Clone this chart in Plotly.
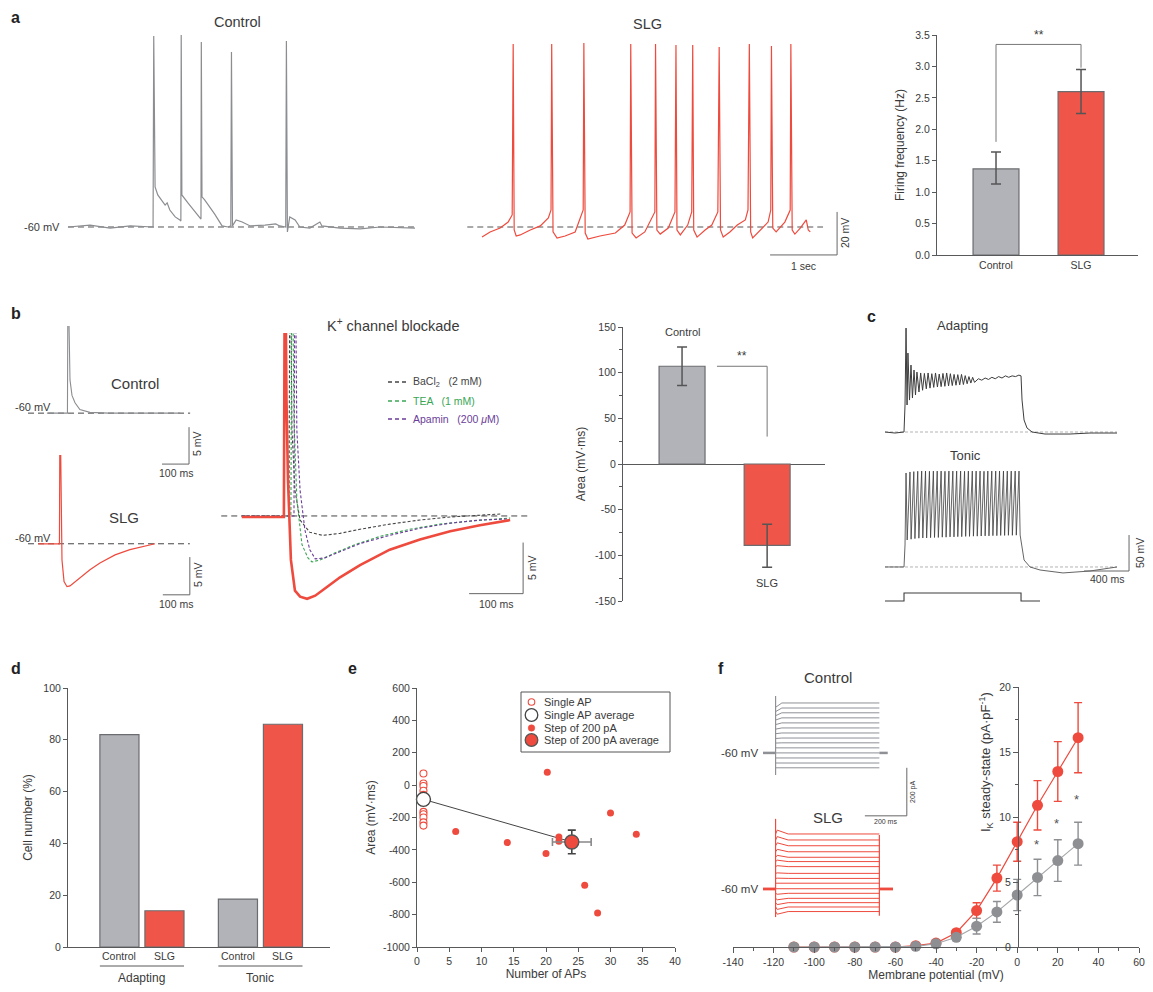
import plotly.graph_objects as go

# The page body adds an 8 px margin; the figure is sized so it fits the 1153x992 window.
OFF = 8
W, H = 1153 - OFF, 992 - OFF
FONT = "Liberation Sans, Arial, Helvetica, sans-serif"
TXT = "#3a3a3a"
AXC = "#58595b"
TRACE_GRAY = "#8b8d91"
RED = "#ee4a3d"
BAR_GRAY = "#b1b3b9"
BAR_RED = "#ef5649"
EDGE = "#6b6c6f"
TEA_C = "#3aa655"
APA_C = "#6b3d98"
BA_C = "#444444"

# ======================= DATA =======================
# --- a: spontaneous firing, time (s) / membrane potential (mV)
a_ctrl_t = [0, 0.33, 0.63, 0.93, 1.27, 1.28, 1.30, 1.34, 1.45, 1.48, 1.52, 1.60, 1.67,
            1.685, 1.69, 1.70, 1.79, 1.87, 1.97,
            1.985, 1.99, 2.00, 2.04, 2.12, 2.19, 2.30, 2.39,
            2.43, 2.44, 2.455, 2.51, 2.60, 2.72, 2.94, 3.10, 3.16,
            3.25, 3.26, 3.275, 3.31, 3.39, 3.46, 3.61, 3.76, 3.79, 4.06, 4.36, 4.66, 5.18]
a_ctrl_v = [-60, -59.1, -60.5, -59.5, -60, 28.8, -41.4, -45.1, -49.8, -48.8, -52.1, -55.3, -56.7,
            -57.2, 29.3, -45.1, -48.8, -52.1, -55.8,
            -56.3, 26.0, -46.0, -47.4, -50.7, -54.0, -59.5, -60.0,
            -59.5, 21.4, -59.5, -56.7, -57.7, -59.5, -59.1, -58.6, -59.5,
            -60, 26.5, -62.3, -55.3, -56.7, -60, -60.5, -57.7, -59.5, -60.5, -60.9, -60, -60.5]
a_slg_t = [0, 0.12, 0.27, 0.39, 0.45, 0.465, 0.48, 0.51, 0.57, 0.72, 0.87, 0.99, 1.03, 1.04, 1.06,
           1.12, 1.24, 1.39, 1.51, 1.52, 1.54, 1.58, 1.76, 1.99, 2.13, 2.21, 2.22, 2.24, 2.30,
           2.43, 2.58, 2.59, 2.61, 2.66, 2.78, 2.88, 2.895, 2.91, 2.96, 3.07, 3.13, 3.145, 3.16,
           3.21, 3.33, 3.43, 3.52, 3.54, 3.56, 3.60, 3.70, 3.81, 3.93, 3.97, 3.99, 4.01, 4.04,
           4.15, 4.27, 4.31, 4.32, 4.34, 4.39, 4.52, 4.60, 4.61, 4.63, 4.67, 4.75, 4.84, 4.87, 4.90]
a_slg_v = [-64.7, -62.3, -60.5, -57.7, -54.4, 25.1, -61.4, -64.2, -63.7, -61.4, -59.5, -55.8, -52.1, 25.1, -62.3,
           -65.1, -64.2, -62.3, -52.1, 25.6, -62.8, -65.6, -64.2, -62.8, -59.1, -53.0, 25.1, -62.8, -65.1,
           -62.3, -53.0, 25.1, -61.4, -63.3, -60.5, -53.0, 24.7, -61.4, -63.7, -59.1, -53.0, 24.7, -61.4,
           -64.7, -61.4, -59.1, -53.0, 23.7, -61.4, -64.7, -62.3, -59.1, -56.7, -52.1, 25.1, -62.3, -65.1,
           -61.4, -57.7, -52.1, 24.2, -60.5, -62.3, -57.7, -52.1, 25.1, -61.4, -63.3, -60.5, -56.7, -61.4, -62.3]
a_groups = ["Control", "SLG"]
a_freq = [1.37, 2.60]
a_freq_err_hi = [0.27, 0.35]
a_freq_err_lo = [0.24, 0.35]

# --- b: single AP afterpotentials, time (ms) / mV
b_ctrl_t = [-78, -2, 0, 5.6, 7.4, 14.8, 26, 44, 81, 150, 250, 415]
b_ctrl_v = [-60, -60, -40, -50.1, -55.5, -57.6, -58.6, -59.5, -59.9, -60, -60, -60]
b_slg_t = [-81, -2, 0, 3.7, 7.4, 15, 26, 37, 56, 74, 111, 148, 204, 259, 315, 352]
b_slg_v = [-60, -60, -40, -50, -62.2, -65.1, -65.8, -65.7, -65.1, -64.6, -63.5, -62.6, -61.5, -60.8, -60.3, -60]
k_red_t = [-80, -2, 0, 2.8, 5.6, 11, 18.5, 28, 41, 56, 74, 102, 139, 194, 250, 306, 361, 417]
k_red_v = [-60.1, -60.1, -30, -48.6, -56.5, -64.3, -67.3, -67.9, -68.1, -67.8, -67.1, -66.0, -64.8, -63.3, -62.3, -61.5, -60.9, -60.4]
k_ba_t = [-80, 7.4, 9.3, 13, 18.5, 28, 46, 70, 102, 139, 194, 250, 306, 402]
k_ba_v = [-60, -60, -30, -51.6, -57.5, -60.4, -61.6, -61.9, -61.7, -61.3, -60.8, -60.4, -60.1, -59.8]
k_tea_t = [-80, 11, 13, 16.7, 22, 31.5, 42.6, 50, 65, 93, 130, 176, 231, 287, 343, 417]
k_tea_v = [-60, -60, -30, -50.6, -58.4, -62.8, -64.1, -64.5, -64.3, -63.6, -62.8, -62.0, -61.3, -60.8, -60.5, -60.2]
k_apa_t = [-80, 16.7, 18.5, 22, 28, 37, 46, 56, 74, 102, 139, 194, 250, 306, 361, 411]
k_apa_v = [-60, -60, -30, -51.6, -57.5, -61.4, -63.3, -64.2, -64.1, -63.5, -62.7, -61.9, -61.2, -60.7, -60.4, -60.3]
k_legend = ["BaCl<sub>2</sub>   (2 mM)", "TEA   (1 mM)", "Apamin   (200 <i>μ</i>M)"]
b_area = [107, -89]
b_area_err_hi = [21, 23]
b_area_err_lo = [21, 24]

# --- c: firing patterns, time (ms) / mV ; stimulus (pA)
c_adapt_pre_t = [0, 89, 169, 178]
c_adapt_pre_v = [-65, -66.4, -65, -27.5]
c_adapt_osc_t = [187, 196, 204, 218, 231, 244, 258, 271, 284, 302, 317, 334, 350, 367, 383, 400, 416, 433,
                 449, 466, 482, 499, 515, 532, 548, 565, 581, 598, 614, 631, 647, 664, 680, 697, 713, 730,
                 746, 763, 779, 796]
c_adapt_osc_v = [79.4, -27.5, 44.7, -20.6, 28.0, -17.8, 21.1, -13.6, 18.3, -9.4, 17.0, -7.0, 16.4, -5.0,
                 17.0, -4.0, 16.0, -3.0, 17.0, -2.5, 15.5, -2.0, 16.4, -1.5, 17.0, -1.0, 16.0, -0.5, 15.0,
                 0.0, 14.7, 0.5, 15.0, 1.0, 13.3, 2.0, 12.0, 3.0, 11.0, 4.0]
c_adapt_post_t = [830, 860, 890, 920, 950, 980, 1010, 1040, 1070, 1100, 1130, 1160, 1190, 1209,
                  1218, 1236, 1262, 1307, 1422, 1645, 1822, 2062]
c_adapt_post_v = [9, 7, 10, 8, 11, 9, 12, 10, 13, 11, 13, 12, 14, 13,
                  -20.6, -48.3, -59.4, -65, -67.8, -67.8, -66.4, -66.4]
c_tonic_spike_t = [187, 222, 256, 291, 326, 360, 395, 430, 464, 499, 533, 568, 603, 637, 672, 707, 741,
                   776, 810, 845, 880, 914, 949, 984, 1018, 1053, 1087, 1122, 1157, 1191]
c_tonic_peak = [65.6, 67.0, 67.5, 68.0, 68.3, 68.3, 68.0, 68.3, 68.3, 68.3, 68.0, 68.3, 68.3, 68.3, 68.3,
                68.0, 68.3, 68.3, 68.3, 68.3, 68.0, 68.3, 68.3, 68.3, 68.3, 68.3, 68.3, 68.3, 68.3, 68.3]
c_tonic_trough = [-27.5, -26.4, -25.6, -25.0, -24.7, -24.7, -24.3, -24.0, -24.0, -23.6, -23.6, -23.2, -23.2,
                  -22.9, -22.9, -22.5, -22.5, -22.2, -22.2, -22.0, -21.8, -21.8, -21.5, -21.5, -21.2, -21.2,
                  -21.0, -21.0, -20.8, -20.6]
c_tonic_post_t = [1209, 1236, 1289, 1378, 1582, 1822, 2062]
c_tonic_post_v = [-27.5, -55.3, -65, -69.2, -73.3, -70.6, -65]
c_stim_t = [0, 169, 169, 1209, 1209, 1378]
c_stim_i = [0, 0, 200, 200, 0, 0]
c_rest = -65

# --- d: cell classification (%)
d_types = ["Adapting", "Tonic"]
d_ctrl = [82, 18.5]
d_slg = [14, 86]

# --- e: area vs number of APs
e_single_x = [1, 1, 1, 1, 1, 1, 1, 1, 1, 1]
e_single_y = [72, 10, -5, -35, -60, -165, -180, -200, -230, -250]
e_single_avg_x = [1]
e_single_avg_y = [-88]
e_step_x = [6, 14, 20, 20.2, 22, 22, 26, 28, 30, 34]
e_step_y = [-287, -355, -423, 79, -320, -347, -619, -790, -172, -304]
e_step_avg_x = [24]
e_step_avg_y = [-351]
e_step_avg_xerr = [3]
e_step_avg_yerr = [73]
e_legend = ["Single AP", "Single AP average", "Step of 200 pA", "Step of 200 pA average"]

# --- f: IK steady state
f_vm = [-110, -100, -90, -80, -70, -60, -50, -40, -30, -20, -10, 0, 10, 20, 30]
f_slg = [0, 0, 0, 0, 0, 0, 0.1, 0.3, 1.1, 2.8, 5.3, 8.1, 10.9, 13.5, 16.1]
f_slg_err = [0, 0, 0, 0, 0, 0, 0, 0, 0.2, 0.6, 1.0, 1.5, 1.9, 2.3, 2.7]
f_ctrl = [0, 0, 0, 0, 0, 0, 0.05, 0.25, 0.75, 1.6, 2.7, 4.0, 5.35, 6.65, 7.95]
f_ctrl_err = [0, 0, 0, 0, 0, 0, 0, 0, 0.2, 0.6, 0.8, 1.2, 1.4, 1.6, 1.65]
f_star_x = [9.4, 19.2, 29.1]
f_star_y = [7.85, 9.5, 11.35]
# current traces (pA), step of 495 ms
f_ctrl_level = [208, 187, 167, 146, 125, 104, 83, 62, 42, 21, 0, -21, -42, -62]
f_ctrl_early = [190, 172, 155, 137, 118, 99, 80, 60, 41, 21, 0, -21, -42, -62]
f_ctrl_cap = [237, -92]
f_slg_level = [229, 204, 180, 155, 132, 114, 93, 65, 44, 24, 1, -18, -39, -57, -75, -94]
f_slg_early = [245, 218, 192, 165, 140, 120, 97, 67, 45, 24, 1, -22, -45, -65, -85, -105]
f_slg_cap = [292, -117]
f_slg_end_cap = [225, -112]
f_step_ms = 495

# ======================= FIGURE =======================
fig = go.Figure()
layout = {}
annotations = []
shapes = []
n_ax = [0]


def PX(px):
    return (px - OFF) / W


def PY(py):
    return 1 - (py - OFF) / H


def add_axes(xpx, ypx, xr, yr, xo=None, yo=None):
    n_ax[0] += 1
    s = '' if n_ax[0] == 1 else str(n_ax[0])
    xa = dict(domain=[PX(xpx[0]), PX(xpx[1])], range=xr, anchor='y' + s, visible=False,
              showgrid=False, zeroline=False, fixedrange=True, automargin=False)
    ya = dict(domain=[PY(ypx[1]), PY(ypx[0])], range=yr, anchor='x' + s, visible=False,
              showgrid=False, zeroline=False, fixedrange=True, automargin=False)
    if xo:
        xa.update(xo)
    if yo:
        ya.update(yo)
    layout['xaxis' + s] = xa
    layout['yaxis' + s] = ya
    return 'x' + s, 'y' + s


def note(x, y, text, size=11, color=TXT, xanchor='center', yanchor='middle', xref='paper',
         yref='paper', angle=0):
    if xref == 'paper':
        x = PX(x)
    if yref == 'paper':
        y = PY(y)
    annotations.append(dict(x=x, y=y, xref=xref, yref=yref, text=text, showarrow=False,
                            font=dict(size=size, color=color, family=FONT), xanchor=xanchor,
                            yanchor=yanchor, textangle=angle, borderpad=0))


def seg(x0, y0, x1, y1, xref, yref, color=AXC, width=1, dash=None):
    d = dict(type='line', x0=x0, y0=y0, x1=x1, y1=y1, xref=xref, yref=yref,
             line=dict(color=color, width=width, dash=dash))
    if xref == 'paper':
        d['x0'], d['x1'] = PX(x0), PX(x1)
    if yref == 'paper':
        d['y0'], d['y1'] = PY(y0), PY(y1)
    shapes.append(d)


def dot(cx, cy, r, fill, edge, ew):
    shapes.append(dict(type='circle', xref='paper', yref='paper', x0=PX(cx - r), x1=PX(cx + r),
                       y0=PY(cy + r), y1=PY(cy - r), fillcolor=fill,
                       line=dict(color=edge, width=ew)))


def line(x, y, xa, ya, color, width=1.1, dash=None, **kw):
    fig.add_trace(go.Scatter(x=x, y=y, mode='lines', xaxis=xa, yaxis=ya, showlegend=False,
                             hoverinfo='skip', line=dict(color=color, width=width, dash=dash), **kw))


TICKF = dict(size=10.5, color=TXT, family=FONT)
TITLEF = dict(size=12, color=TXT, family=FONT)


def vis_axis(**kw):
    d = dict(visible=True, showline=True, linecolor=AXC, linewidth=1, ticks='outside', ticklen=4,
             tickcolor=AXC, tickwidth=1, tickfont=TICKF)
    d.update(kw)
    return d


# panel letters
for lt, (lx, ly) in zip("abcdef", [(10, 18), (10, 313), (866, 316), (10, 668), (347, 668), (717, 668)]):
    note(lx, ly, f"<b>{lt}</b>", size=16, color="#222", xanchor='left')

# ---------- a: traces ----------
xa, ya = add_axes((60, 420), (25, 240), [-0.119, 5.254], [-66.05, 33.95])
line([0, 5.18], [-60, -60], xa, ya, "#555", 1, "6px,4px")
line(a_ctrl_t, a_ctrl_v, xa, ya, TRACE_GRAY, 1.2)
note(61, 227, "-60 mV", 11, xanchor='right')
note(237, 22, "Control", 14.5)

xa, ya = add_axes((462, 860), (25, 270), [-0.299, 5.642], [-80, 33.95])
line([-0.22, 5.09], [-60, -60], xa, ya, "#555", 1, "6px,4px")
line(a_slg_t, a_slg_v, xa, ya, RED, 1.2)
seg(4.30, -73, 5.30, -73, xa, ya, "#666", 1)
seg(5.30, -73, 5.30, -53, xa, ya, "#666", 1)
note(4.80, -75, "1 sec", 10.5, yanchor='top', xref=xa, yref=ya)
note(845, 233, "20 mV", 10.5, angle=-90)
note(647, 24, "SLG", 14.5)

# ---------- a: bar ----------
xa, ya = add_axes((937, 1138), (35, 255), [-0.694, 1.67], [0, 3.5],
                  vis_axis(type='category', ticks=''),
                  vis_axis(dtick=0.5, tickformat='.1f', title=dict(text='Firing frequency (Hz)', font=TITLEF, standoff=8)))
fig.add_trace(go.Bar(x=a_groups, y=a_freq, width=0.54, xaxis=xa, yaxis=ya, showlegend=False,
                     marker=dict(color=[BAR_GRAY, BAR_RED], line=dict(color=EDGE, width=1.2)),
                     error_y=dict(type='data', array=a_freq_err_hi, arrayminus=a_freq_err_lo,
                                  color='#555', thickness=1.5, width=5)))
seg(0, 1.8, 0, 3.35, xa, ya, "#777", 1)
seg(0, 3.35, 1, 3.35, xa, ya, "#777", 1)
seg(1, 3.35, 1, 2.98, xa, ya, "#777", 1)
note(0.5, 3.37, "**", 12, yanchor='bottom', xref=xa, yref=ya)

# ---------- b: small traces ----------
xa, ya = add_axes((28, 192), (326, 470), [-148, 459], [-67.7, -48.2])
line([-148, 452], [-60, -60], xa, ya, "#444", 1, "6px,4px")
line(b_ctrl_t, b_ctrl_v, xa, ya, TRACE_GRAY, 1.1)
seg(348, -66.9, 448, -66.9, xa, ya, "#666", 1)
seg(448, -66.9, 448, -61.9, xa, ya, "#666", 1)
note(398, -67.2, "100 ms", 10.5, yanchor='top', xref=xa, yref=ya)
note(197, 444, "5 mV", 10.5, angle=-90)
note(14, 407, "-60 mV", 11, xanchor='left')
note(135, 383, "Control", 15)

xa, ya = add_axes((28, 192), (455, 600), [-118.5, 489], [-67.6, -48])
line([-118.5, 481], [-60, -60], xa, ya, "#444", 1, "6px,4px")
line(b_slg_t, b_slg_v, xa, ya, RED, 1.2)
seg(381, -66.9, 481, -66.9, xa, ya, "#666", 1)
seg(481, -66.9, 481, -61.8, xa, ya, "#666", 1)
note(431, -67.2, "100 ms", 10.5, yanchor='top', xref=xa, yref=ya)
note(198, 575, "5 mV", 10.5, angle=-90)
note(14, 538, "-60 mV", 11, xanchor='left')
note(124, 517, "SLG", 15)

# ---------- b: K+ channel blockade ----------
xa, ya = add_axes((218, 535), (333, 610), [-124, 463], [-69.2, -42.1])
line([-118, 454], [-60, -60], xa, ya, "#444", 1, "6px,4px")
line(k_ba_t, k_ba_v, xa, ya, BA_C, 1.1, "3px,2px")
line(k_tea_t, k_tea_v, xa, ya, TEA_C, 1.1, "3px,2px")
line(k_apa_t, k_apa_v, xa, ya, APA_C, 1.1, "3px,2px")
line(k_red_t, k_red_v, xa, ya, RED, 2.6)
seg(341, -67.6, 441, -67.6, xa, ya, "#666", 1)
seg(441, -67.6, 441, -62.6, xa, ya, "#666", 1)
note(391, -67.9, "100 ms", 10.5, yanchor='top', xref=xa, yref=ya)
note(532, 568, "5 mV", 10.5, angle=-90)
note(393, 325, "K<sup>+</sup> channel blockade", 14.5)
for (lab, col, yy) in zip(k_legend, [BA_C, TEA_C, APA_C], [382, 401, 419]):
    seg(388, yy, 406, yy, 'paper', 'paper', col, 1.3, "4px,3px")
    note(412, yy, lab, 10.5, color=col, xanchor='left')

# ---------- b: bar ----------
xa, ya = add_axes((623, 825), (327, 601), [-0.694, 1.68], [-150, 150],
                  dict(type='category'),
                  vis_axis(tickvals=[-150, -100, -50, 0, 50, 100, 150],
                           ticktext=['-150', '-100', '-50', '0', '50', '100', '150'],
                           zeroline=True, zerolinecolor=AXC, zerolinewidth=1,
                           minor=dict(dtick=25, tick0=0, ticks='outside', ticklen=3, tickcolor=AXC),
                           title=dict(text='Area (mV·ms)', font=TITLEF, standoff=6)))
fig.add_trace(go.Bar(x=a_groups, y=b_area, width=0.54, xaxis=xa, yaxis=ya, showlegend=False,
                     marker=dict(color=[BAR_GRAY, BAR_RED], line=dict(color=EDGE, width=1.2)),
                     error_y=dict(type='data', array=b_area_err_hi, arrayminus=b_area_err_lo,
                                  color='#555', thickness=1.5, width=5)))
seg(0.41, 107, 1.0, 107, xa, ya, "#777", 1)
seg(1.0, 107, 1.0, 30, xa, ya, "#777", 1)
note(0.70, 109, "**", 12, yanchor='bottom', xref=xa, yref=ya)
note(0, 145, "Control", 11, xref=xa, yref=ya)
note(1, -130, "SLG", 11, xref=xa, yref=ya)

# ---------- c ----------
CK = "#3d3d3d"
xa, ya = add_axes((885, 1135), (320, 440), [0, 2222], [-76.1, 90.6])
line([0, 2062], [c_rest, c_rest], xa, ya, "#aaaaaa", 0.9, "3px,2px")
line(c_adapt_pre_t + c_adapt_osc_t + c_adapt_post_t, c_adapt_pre_v + c_adapt_osc_v + c_adapt_post_v,
     xa, ya, CK, 1.0)
note(963, 325, "Adapting", 13)

tonic_t, tonic_v = [0, 169, 178], [c_rest, c_rest, -34.4]
for ts, pk, tr in zip(c_tonic_spike_t, c_tonic_peak, c_tonic_trough):
    tonic_t += [ts, ts + 10]
    tonic_v += [pk, tr]
xa, ya = add_axes((885, 1135), (465, 580), [0, 2222], [-83.1, 76.7])
line([0, 2062], [c_rest, c_rest], xa, ya, "#aaaaaa", 0.9, "3px,2px")
line(tonic_t + c_tonic_post_t, tonic_v + c_tonic_post_v, xa, ya, CK, 0.8)
seg(1769, -70.6, 2169, -70.6, xa, ya, "#666", 1)
seg(2169, -70.6, 2169, -20.6, xa, ya, "#666", 1)
note(1969, -72, "400 ms", 10.5, yanchor='top', xref=xa, yref=ya)
note(1140, 553, "50 mV", 10.5, angle=-90)
note(965, 455, "Tonic", 13)

xa, ya = add_axes((885, 1135), (585, 606), [0, 2222], [-125, 400])
line(c_stim_t, c_stim_i, xa, ya, CK, 1.1)

# ---------- d ----------
xa, ya = add_axes((68, 330), (688, 947), [-0.624, 1.587], [0, 100],
                  dict(type='category', visible=True, showline=True, linecolor=AXC, ticks='', showticklabels=False),
                  vis_axis(dtick=20, title=dict(text='Cell number (%)', font=TITLEF, standoff=8)))
D_OFF = [-0.355, 0.025]
D_W = 0.33
fig.add_trace(go.Bar(x=d_types, y=d_ctrl, width=D_W, offset=D_OFF[0], xaxis=xa, yaxis=ya, showlegend=False,
                     marker=dict(color=BAR_GRAY, line=dict(color=EDGE, width=1.2))))
fig.add_trace(go.Bar(x=d_types, y=d_slg, width=D_W, offset=D_OFF[1], xaxis=xa, yaxis=ya, showlegend=False,
                     marker=dict(color=BAR_RED, line=dict(color=EDGE, width=1.2))))
for i, gname in enumerate(d_types):
    note(i + D_OFF[0] + D_W / 2, 956, "Control", 10.5, xref=xa)
    note(i + D_OFF[1] + D_W / 2, 956, "SLG", 10.5, xref=xa)
    shapes.append(dict(type='line', xref=xa, yref='paper', x0=i + D_OFF[0], x1=i + D_OFF[1] + D_W,
                       y0=PY(966), y1=PY(966), line=dict(color=AXC, width=1)))
    note(i, 978, gname, 12, xref=xa)

# ---------- e ----------
xa, ya = add_axes((417, 675), (688, 947), [0, 40], [-1000, 600],
                  vis_axis(tickvals=[0, 5, 10, 15, 20, 25, 30, 35, 40],
                           title=dict(text='Number of APs', font=TITLEF, standoff=4)),
                  vis_axis(tickvals=[-1000, -800, -600, -400, -200, 0, 200, 400, 600],
                           ticktext=['-1000', '-800', '-600', '-400', '-200', '0', '200', '400', '600'],
                           title=dict(text='Area (mV·ms)', font=TITLEF, standoff=4)))
line([e_single_avg_x[0], e_step_avg_x[0]], [e_single_avg_y[0], e_step_avg_y[0]], xa, ya, "#444", 1)
fig.add_trace(go.Scatter(x=e_single_x, y=e_single_y, mode='markers', name=e_legend[0], xaxis=xa, yaxis=ya,
                         showlegend=False, cliponaxis=False,
                         marker=dict(size=7, color='white', line=dict(color=RED, width=1.1))))
fig.add_trace(go.Scatter(x=e_single_avg_x, y=e_single_avg_y, mode='markers', name=e_legend[1],
                         xaxis=xa, yaxis=ya, cliponaxis=False, showlegend=False,
                         marker=dict(size=14, color='white', line=dict(color='#444', width=1.4))))
fig.add_trace(go.Scatter(x=e_step_x, y=e_step_y, mode='markers', name=e_legend[2], xaxis=xa, yaxis=ya,
                         showlegend=False, marker=dict(size=7, color=RED, line=dict(width=0))))
fig.add_trace(go.Scatter(x=e_step_avg_x, y=e_step_avg_y, mode='markers', name=e_legend[3],
                         xaxis=xa, yaxis=ya, showlegend=False,
                         error_x=dict(type='data', array=e_step_avg_xerr, color='#888', thickness=1.6, width=4),
                         error_y=dict(type='data', array=e_step_avg_yerr, color='#444', thickness=1.6, width=4),
                         marker=dict(size=14, color=RED, line=dict(color='#555', width=1.4))))
# legend box
shapes.append(dict(type='rect', xref='paper', yref='paper', x0=PX(521), x1=PX(670), y0=PY(752),
                   y1=PY(692), line=dict(color='#555', width=1), fillcolor='rgba(0,0,0,0)'))
leg_y = [702, 715, 728, 740]
dot(531.5, leg_y[0], 3.3, 'white', RED, 1.1)
dot(531.5, leg_y[1], 6.3, 'white', '#444', 1.3)
dot(531.5, leg_y[2], 3.3, RED, RED, 0.5)
dot(531.5, leg_y[3], 6.3, RED, '#555', 1.3)
for lab, yy in zip(e_legend, leg_y):
    note(543, yy, lab, 11, xanchor='left')

# ---------- f: IV ----------
xa, ya = add_axes((733, 1139), (687, 947), [-140, 60], [0, 20],
                  vis_axis(tickvals=[-140, -120, -100, -80, -60, -40, -20, 0, 20, 40, 60],
                           ticktext=['-140', '-120', '-100', '-80', '-60', '-40', '-20', '0', '20', '40', '60'],
                           ticklen=5, minor=dict(dtick=10, tick0=0, ticks='outside', ticklen=3, tickcolor=AXC),
                           title=dict(text='Membrane potential (mV)', font=TITLEF, standoff=4)),
                  vis_axis(anchor='free', position=PX(1018), tickvals=[0, 5, 10, 15, 20], ticklen=5,
                           minor=dict(dtick=2.5, tick0=0, ticks='outside', ticklen=3, tickcolor=AXC)))
fig.add_trace(go.Scatter(x=f_vm, y=f_slg, mode='lines+markers', xaxis=xa, yaxis=ya, showlegend=False,
                         cliponaxis=False, line=dict(color=RED, width=1.2),
                         marker=dict(size=11, color=RED),
                         error_y=dict(type='data', array=f_slg_err, color=RED, thickness=1.4, width=4)))
fig.add_trace(go.Scatter(x=f_vm, y=f_ctrl, mode='lines+markers', xaxis=xa, yaxis=ya, showlegend=False,
                         cliponaxis=False, line=dict(color='#a3a5a8', width=1.1),
                         marker=dict(size=11, color='#8d8f93'),
                         error_y=dict(type='data', array=f_ctrl_err, color='#8d8f93', thickness=1.4, width=4)))
for sx, sy in zip(f_star_x, f_star_y):
    note(sx, sy, "*", 13, color='#555', xref=xa, yref=ya)
note(986, 762, "I<sub>K</sub> steady-state (pA·pF<sup>-1</sup>)", 13, angle=-90)

# ---------- f: current inset Control ----------
xa, ya = add_axes((763, 915), (690, 830), [-60, 665], [-321, 262])
CG = "#8e9096"
for lv, ea in zip(f_ctrl_level, f_ctrl_early):
    line([0, 30, f_step_ms], [ea, lv, lv], xa, ya, CG, 1)
line([0, 0], f_ctrl_cap, xa, ya, CG, 1.2)
line([-60, 0], [0, 0], xa, ya, CG, 2.5)
line([f_step_ms, 535], [0, 0], xa, ya, CG, 2.5)
seg(426, -262, 626, -262, xa, ya, "#666", 1)
seg(626, -262, 626, -62, xa, ya, "#666", 1)
note(526, -268, "200 ms", 7, yanchor='top', xref=xa, yref=ya)
note(913, 792, "200 pA", 7, angle=-90)
note(759, 753, "-60 mV", 11.5, xanchor='right')
note(828, 677, "Control", 15)

# ---------- f: current inset SLG ----------
xa, ya = add_axes((763, 915), (815, 925), [-60, 665], [-150, 308])
for lv, ea in zip(f_slg_level, f_slg_early):
    line([0, 8, 60, f_step_ms], [lv, ea, lv, lv], xa, ya, RED, 1)
line([0, 0], f_slg_cap, xa, ya, RED, 1.2)
line([f_step_ms, f_step_ms], f_slg_end_cap, xa, ya, RED, 1.2)
line([-60, 0], [0, 0], xa, ya, RED, 2.8)
line([f_step_ms, 560], [0, 0], xa, ya, RED, 2.8)
note(759, 889, "-60 mV", 11.5, xanchor='right')
note(828, 817, "SLG", 15)

layout.update(dict(
    width=W, height=H, margin=dict(l=0, r=0, t=0, b=0, autoexpand=False), autosize=False,
    paper_bgcolor='white', plot_bgcolor='white', barmode='overlay',
    font=dict(family=FONT, color=TXT, size=11),
    annotations=annotations, shapes=shapes, showlegend=False,
))
fig.update_layout(layout)
fig.write_html("out.html")
